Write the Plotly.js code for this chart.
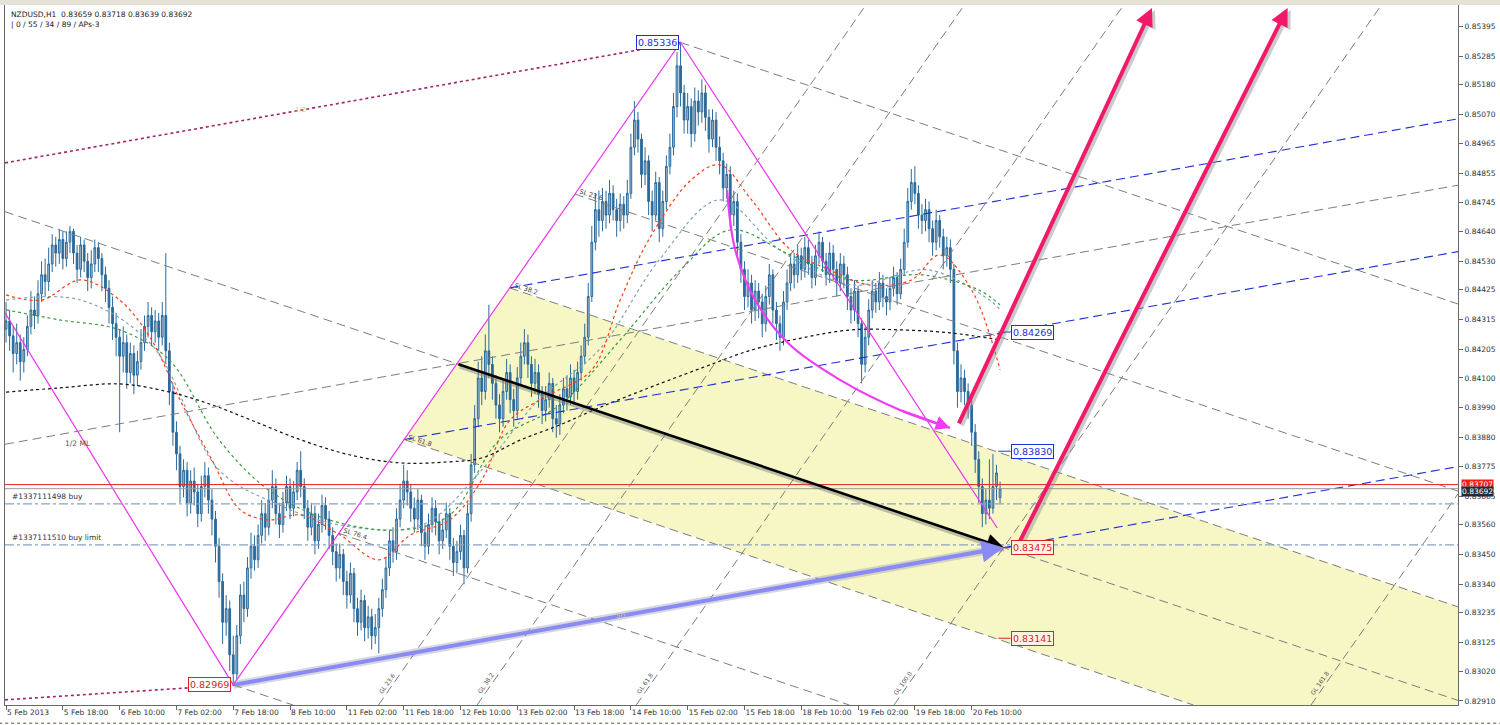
<!DOCTYPE html>
<html>
<head>
<meta charset="utf-8">
<script src="https://cdn.plot.ly/plotly-3.0.1.min.js"></script>
<style>
html,body{margin:0;padding:0;background:#fff;}
#chart{width:1500px;height:725px;}
</style>
</head>
<body>
<div id="chart"></div>
<script>
// NZDUSD H1, 5 Feb 2013 - 20 Feb 2013, with pitchfork / channel study objects

// time axis (bar index) labels
const tickIdx = [0,16,32,48,64,80,96,112,128,144,160,176,192,208,224,240,256,272];
const tickText = ['5 Feb 2013','5 Feb 18:00','6 Feb 10:00','7 Feb 02:00','7 Feb 18:00','8 Feb 10:00',
  '11 Feb 02:00','11 Feb 18:00','12 Feb 10:00','13 Feb 02:00','13 Feb 18:00','14 Feb 10:00',
  '15 Feb 02:00','15 Feb 18:00','18 Feb 10:00','19 Feb 02:00','19 Feb 18:00','20 Feb 10:00'];

// price axis labels
const priceTicks = [0.85395,0.85285,0.85180,0.85070,0.84965,0.84855,0.84745,0.84640,0.84530,0.84425,
  0.84315,0.84205,0.84100,0.83990,0.83880,0.83775,0.83665,0.83560,0.83450,0.83340,0.83235,0.83125,0.83020,0.82910];

// hourly bars
const open = [
0.84280,0.84310,0.84255,0.84190,0.84230,0.84160,0.84205,0.84290,0.84350,0.84330,
0.84410,0.84480,0.84455,0.84520,0.84590,0.84560,0.84610,0.84540,0.84600,0.84640,
0.84560,0.84500,0.84590,0.84530,0.84470,0.84520,0.84580,0.84540,0.84480,0.84430,
0.84360,0.84300,0.84250,0.84180,0.84230,0.84120,0.84190,0.84110,0.84160,0.84230,
0.84290,0.84330,0.84270,0.84310,0.84250,0.84330,0.84200,0.84050,0.83900,0.83820,
0.83700,0.83760,0.83640,0.83720,0.83680,0.83600,0.83700,0.83740,0.83650,0.83580,
0.83480,0.83350,0.83200,0.83250,0.83080,0.83010,0.83150,0.83300,0.83250,0.83400,
0.83480,0.83430,0.83520,0.83600,0.83550,0.83650,0.83700,0.83600,0.83560,0.83640,
0.83700,0.83620,0.83680,0.83760,0.83700,0.83620,0.83550,0.83600,0.83500,0.83560,
0.83630,0.83580,0.83520,0.83460,0.83400,0.83450,0.83350,0.83300,0.83380,0.83250,
0.83200,0.83280,0.83180,0.83220,0.83150,0.83180,0.83250,0.83320,0.83400,0.83500,
0.83460,0.83580,0.83650,0.83720,0.83680,0.83620,0.83580,0.83650,0.83530,0.83480,
0.83560,0.83620,0.83570,0.83500,0.83540,0.83600,0.83480,0.83420,0.83460,0.83520,
0.83400,0.83600,0.83780,0.83950,0.84100,0.84050,0.84200,0.84150,0.84080,0.84000,
0.83950,0.84050,0.84120,0.84020,0.83980,0.84100,0.84180,0.84230,0.84150,0.84080,
0.84120,0.84040,0.83980,0.84020,0.84080,0.83950,0.83930,0.84000,0.84060,0.84030,
0.84100,0.84050,0.84120,0.84180,0.84250,0.84400,0.84600,0.84720,0.84680,0.84750,
0.84700,0.84780,0.84720,0.84680,0.84740,0.84700,0.84780,0.84950,0.85050,0.84980,
0.84850,0.84900,0.84750,0.84700,0.84820,0.84650,0.84750,0.84880,0.84950,0.85100,
0.85250,0.85150,0.85050,0.85100,0.85000,0.85120,0.85080,0.85150,0.85060,0.84980,
0.85050,0.84950,0.84900,0.84800,0.84850,0.84700,0.84750,0.84600,0.84500,0.84400,
0.84450,0.84350,0.84420,0.84380,0.84300,0.84400,0.84480,0.84350,0.84300,0.84250,
0.84380,0.84450,0.84520,0.84480,0.84550,0.84500,0.84580,0.84520,0.84470,0.84550,
0.84600,0.84530,0.84480,0.84560,0.84500,0.84450,0.84520,0.84480,0.84400,0.84350,
0.84420,0.84300,0.84150,0.84250,0.84350,0.84420,0.84380,0.84450,0.84400,0.84380,
0.84430,0.84470,0.84410,0.84500,0.84600,0.84750,0.84820,0.84780,0.84700,0.84680,
0.84720,0.84650,0.84600,0.84680,0.84620,0.84550,0.84580,0.84500,0.84200,0.84050,
0.84100,0.84050,0.84000,0.83900,0.83800,0.83700,0.83600,0.83650,0.83620,0.83700,
0.83659];
const high = [
0.84380,0.84350,0.84290,0.84300,0.84260,0.84250,0.84330,0.84420,0.84400,0.84460,
0.84530,0.84540,0.84580,0.84630,0.84620,0.84650,0.84640,0.84640,0.84660,0.84650,
0.84590,0.84620,0.84610,0.84560,0.84570,0.84610,0.84600,0.84560,0.84510,0.84460,
0.84400,0.84340,0.84280,0.84290,0.84260,0.84230,0.84220,0.84200,0.84280,0.84330,
0.84380,0.84360,0.84350,0.84340,0.84380,0.84560,0.84230,0.84080,0.83940,0.83850,
0.83800,0.83790,0.83760,0.83770,0.83710,0.83740,0.83790,0.83770,0.83690,0.83610,
0.83510,0.83380,0.83300,0.83280,0.83150,0.83190,0.83340,0.83350,0.83440,0.83530,
0.83520,0.83560,0.83650,0.83640,0.83690,0.83760,0.83730,0.83640,0.83680,0.83740,
0.83730,0.83720,0.83790,0.83830,0.83730,0.83650,0.83640,0.83630,0.83600,0.83670,
0.83660,0.83610,0.83550,0.83490,0.83490,0.83470,0.83390,0.83420,0.83400,0.83290,
0.83320,0.83300,0.83260,0.83250,0.83230,0.83290,0.83360,0.83440,0.83540,0.83550,
0.83620,0.83710,0.83780,0.83760,0.83710,0.83660,0.83690,0.83670,0.83560,0.83600,
0.83660,0.83650,0.83600,0.83580,0.83640,0.83620,0.83510,0.83500,0.83560,0.83540,
0.83640,0.83820,0.84000,0.84160,0.84180,0.84260,0.84370,0.84180,0.84110,0.84040,
0.84090,0.84170,0.84150,0.84060,0.84140,0.84230,0.84280,0.84260,0.84180,0.84170,
0.84150,0.84070,0.84070,0.84120,0.84100,0.84000,0.84040,0.84100,0.84110,0.84150,
0.84130,0.84160,0.84220,0.84300,0.84450,0.84660,0.84780,0.84790,0.84800,0.84790,
0.84830,0.84810,0.84760,0.84780,0.84770,0.84830,0.85000,0.85120,0.85080,0.85000,
0.84950,0.84920,0.84790,0.84860,0.84840,0.84790,0.84920,0.85000,0.85150,0.85300,
0.85336,0.85180,0.85150,0.85130,0.85170,0.85160,0.85200,0.85180,0.85090,0.85090,
0.85080,0.84990,0.84930,0.84890,0.84880,0.84790,0.84780,0.84630,0.84530,0.84500,
0.84480,0.84460,0.84450,0.84410,0.84440,0.84520,0.84500,0.84380,0.84330,0.84420,
0.84500,0.84560,0.84560,0.84590,0.84580,0.84620,0.84610,0.84550,0.84590,0.84640,
0.84620,0.84560,0.84600,0.84590,0.84530,0.84560,0.84550,0.84510,0.84430,0.84460,
0.84440,0.84320,0.84290,0.84390,0.84460,0.84450,0.84490,0.84480,0.84430,0.84470,
0.84510,0.84490,0.84540,0.84650,0.84800,0.84870,0.84880,0.84810,0.84740,0.84760,
0.84750,0.84680,0.84720,0.84700,0.84650,0.84620,0.84610,0.84520,0.84230,0.84150,
0.84130,0.84080,0.84030,0.83930,0.83830,0.83730,0.83690,0.83800,0.83820,0.83780,
0.83718];
const low = [
0.84230,0.84200,0.84120,0.84150,0.84090,0.84120,0.84180,0.84260,0.84280,0.84300,
0.84380,0.84400,0.84420,0.84490,0.84510,0.84520,0.84500,0.84510,0.84560,0.84520,
0.84450,0.84470,0.84490,0.84420,0.84430,0.84490,0.84490,0.84420,0.84380,0.84300,
0.84240,0.84180,0.83900,0.84120,0.84060,0.84080,0.84040,0.84070,0.84130,0.84200,
0.84250,0.84220,0.84230,0.84200,0.84220,0.84150,0.84000,0.83850,0.83760,0.83640,
0.83660,0.83590,0.83600,0.83630,0.83550,0.83570,0.83660,0.83600,0.83520,0.83420,
0.83290,0.83120,0.83150,0.83020,0.82969,0.82990,0.83120,0.83200,0.83220,0.83360,
0.83390,0.83400,0.83490,0.83500,0.83520,0.83620,0.83560,0.83510,0.83530,0.83610,
0.83580,0.83590,0.83650,0.83660,0.83580,0.83500,0.83520,0.83450,0.83470,0.83530,
0.83540,0.83470,0.83410,0.83350,0.83360,0.83300,0.83250,0.83270,0.83200,0.83150,
0.83170,0.83130,0.83140,0.83100,0.83120,0.83085,0.83220,0.83290,0.83370,0.83420,
0.83430,0.83550,0.83620,0.83630,0.83570,0.83530,0.83540,0.83480,0.83430,0.83450,
0.83530,0.83520,0.83450,0.83470,0.83510,0.83430,0.83370,0.83380,0.83430,0.83340,
0.83380,0.83570,0.83750,0.83920,0.84000,0.84020,0.84100,0.84020,0.83950,0.83900,
0.83920,0.84020,0.83970,0.83920,0.83950,0.84070,0.84150,0.84100,0.84030,0.84040,
0.83990,0.83930,0.83940,0.83990,0.83900,0.83880,0.83890,0.83970,0.83980,0.84000,
0.84000,0.84020,0.84090,0.84150,0.84220,0.84380,0.84570,0.84620,0.84640,0.84650,
0.84670,0.84680,0.84620,0.84640,0.84650,0.84670,0.84760,0.84920,0.84930,0.84800,
0.84810,0.84700,0.84640,0.84680,0.84600,0.84620,0.84720,0.84850,0.84920,0.85060,
0.85100,0.85000,0.85000,0.84950,0.84970,0.85030,0.85040,0.85010,0.84930,0.84950,
0.84900,0.84850,0.84750,0.84760,0.84650,0.84660,0.84550,0.84450,0.84350,0.84360,
0.84300,0.84310,0.84320,0.84250,0.84270,0.84370,0.84300,0.84240,0.84200,0.84220,
0.84350,0.84420,0.84430,0.84450,0.84460,0.84470,0.84480,0.84430,0.84440,0.84520,
0.84490,0.84440,0.84450,0.84460,0.84400,0.84420,0.84430,0.84350,0.84300,0.84310,
0.84250,0.84080,0.84120,0.84220,0.84320,0.84340,0.84350,0.84360,0.84330,0.84350,
0.84400,0.84370,0.84390,0.84480,0.84580,0.84720,0.84740,0.84650,0.84630,0.84640,
0.84600,0.84550,0.84570,0.84580,0.84500,0.84510,0.84450,0.84150,0.83990,0.84010,
0.84000,0.83950,0.83850,0.83750,0.83640,0.83550,0.83560,0.83580,0.83600,0.83650,
0.83639];
const close = [
0.84310,0.84255,0.84190,0.84230,0.84160,0.84205,0.84290,0.84350,0.84330,0.84410,
0.84480,0.84455,0.84520,0.84590,0.84560,0.84610,0.84540,0.84600,0.84640,0.84560,
0.84500,0.84590,0.84530,0.84470,0.84520,0.84580,0.84540,0.84480,0.84430,0.84360,
0.84300,0.84250,0.84180,0.84230,0.84120,0.84190,0.84110,0.84160,0.84230,0.84290,
0.84330,0.84270,0.84310,0.84250,0.84330,0.84200,0.84050,0.83900,0.83820,0.83700,
0.83760,0.83640,0.83720,0.83680,0.83600,0.83700,0.83740,0.83650,0.83580,0.83480,
0.83350,0.83200,0.83250,0.83080,0.83010,0.83150,0.83300,0.83250,0.83400,0.83480,
0.83430,0.83520,0.83600,0.83550,0.83650,0.83700,0.83600,0.83560,0.83640,0.83700,
0.83620,0.83680,0.83760,0.83700,0.83620,0.83550,0.83600,0.83500,0.83560,0.83630,
0.83580,0.83520,0.83460,0.83400,0.83450,0.83350,0.83300,0.83380,0.83250,0.83200,
0.83280,0.83180,0.83220,0.83150,0.83180,0.83250,0.83320,0.83400,0.83500,0.83460,
0.83580,0.83650,0.83720,0.83680,0.83620,0.83580,0.83650,0.83530,0.83480,0.83560,
0.83620,0.83570,0.83500,0.83540,0.83600,0.83480,0.83420,0.83460,0.83520,0.83400,
0.83600,0.83780,0.83950,0.84100,0.84050,0.84200,0.84150,0.84080,0.84000,0.83950,
0.84050,0.84120,0.84020,0.83980,0.84100,0.84180,0.84230,0.84150,0.84080,0.84120,
0.84040,0.83980,0.84020,0.84080,0.83950,0.83930,0.84000,0.84060,0.84030,0.84100,
0.84050,0.84120,0.84180,0.84250,0.84400,0.84600,0.84720,0.84680,0.84750,0.84700,
0.84780,0.84720,0.84680,0.84740,0.84700,0.84780,0.84950,0.85050,0.84980,0.84850,
0.84900,0.84750,0.84700,0.84820,0.84650,0.84750,0.84880,0.84950,0.85100,0.85250,
0.85150,0.85050,0.85100,0.85000,0.85120,0.85080,0.85150,0.85060,0.84980,0.85050,
0.84950,0.84900,0.84800,0.84850,0.84700,0.84750,0.84600,0.84500,0.84400,0.84450,
0.84350,0.84420,0.84380,0.84300,0.84400,0.84480,0.84350,0.84300,0.84250,0.84380,
0.84450,0.84520,0.84480,0.84550,0.84500,0.84580,0.84520,0.84470,0.84550,0.84600,
0.84530,0.84480,0.84560,0.84500,0.84450,0.84520,0.84480,0.84400,0.84350,0.84420,
0.84300,0.84150,0.84250,0.84350,0.84420,0.84380,0.84450,0.84400,0.84380,0.84430,
0.84470,0.84410,0.84500,0.84600,0.84750,0.84820,0.84780,0.84700,0.84680,0.84720,
0.84650,0.84600,0.84680,0.84620,0.84550,0.84580,0.84500,0.84200,0.84050,0.84100,
0.84050,0.84000,0.83900,0.83800,0.83700,0.83600,0.83650,0.83620,0.83700,0.83750,
0.83692];

// moving averages (sampled at bar index)
const maRedT = [0,10,21,32,41,49,58,66,74,83,94,105,114,125,134,142,153,165,173,181,193,201,210,221,232,243,255,263,272,280];
const maRedP = [0.84406,0.84387,0.84461,0.84387,0.84240,0.84019,0.83798,0.83614,0.83577,0.83595,0.83522,0.83430,0.83522,0.83577,0.83724,0.83945,0.84037,0.84130,0.84387,0.84608,0.84830,0.84885,0.84756,0.84572,0.84498,0.84443,0.84461,0.84553,0.84424,0.84130];
const maGreenT = [0,15,32,46,60,74,91,111,125,139,156,173,190,204,221,238,258,274,280];
const maGreenP = [0.84351,0.84314,0.84277,0.84166,0.83872,0.83687,0.83577,0.83540,0.83595,0.83872,0.84001,0.84240,0.84498,0.84645,0.84553,0.84461,0.84480,0.84424,0.84369];
const maSteelT = [0,21,41,60,77,94,117,134,150,167,184,201,218,238,260,277,280];
const maSteelP = [0.84387,0.84387,0.84222,0.83761,0.83632,0.83558,0.83558,0.83761,0.84019,0.84203,0.84535,0.84756,0.84572,0.84443,0.84498,0.84387,0.84351];
const maBlackT = [0,15,32,46,58,69,83,97,111,125,134,145,156,167,181,196,210,224,238,252,266,280];
const maBlackP = [0.84048,0.84063,0.84078,0.84048,0.84001,0.83945,0.83872,0.83816,0.83787,0.83791,0.83805,0.83872,0.83927,0.83990,0.84063,0.84137,0.84203,0.84247,0.84277,0.84277,0.84266,0.84240];

// swing pivots: low, high, target
const pivotT = [64, 190, 281];
const pivotP = [0.82969, 0.85336, 0.83475];
const zigStartT = -0.3, zigStartP = 0.84340;
const zigEndT = 279.2, zigEndP = 0.83547;
const slLevels = [0.236, 0.382, 0.618, 0.764];
const glLevels = [0.236, 0.382, 0.618, 1.0, 1.618];

// price markers and levels
const askP = 0.83707, bidP = 0.83692;
const orderP = [0.83636, 0.83485];
const orderText = ['#1337111498 buy', '#1337111510 buy limit'];
const blueMarks = [0.84269, 0.83830];
const redMarks = [0.83475, 0.83141];

// hand-drawn arrows
const curveT = [203.1, 205.4, 211.0, 220.8, 234.9, 251.8, 265.9];
const curveP = [0.84793, 0.84572, 0.84387, 0.84222, 0.84093, 0.83982, 0.83916];
const pinkTailT = [268.2, 284.5], pinkTailP = [0.83927, 0.83470];
const pinkHeadT = [322.8, 361.0], pinkHeadP = [0.85463, 0.85463];

// ---------------------------------------------------------------
const X0 = -0.3, X1 = 409.0, Y0 = 0.82895, Y1 = 0.85474;
const A = {t: pivotT[0], p: pivotP[0]};
const B = {t: pivotT[1], p: pivotP[1]};
const E = {t: pivotT[2], p: pivotP[2]};
const onAB = f => ({t: B.t + f * (A.t - B.t), p: B.p + f * (A.p - B.p)});
const M = onAB(0.5);
const sDown = (E.p - M.p) / (E.t - M.t);
const sUp = (E.p - A.p) / (E.t - A.t);
const sGL = (B.p - A.p) / (B.t - A.t);

function ray(pt, s, dir) {
  let t = dir > 0 ? X1 : X0;
  let p = pt.p + s * (t - pt.t);
  if (p < Y0) { p = Y0; t = pt.t + (Y0 - pt.p) / s; }
  else if (p > Y1) { p = Y1; t = pt.t + (Y1 - pt.p) / s; }
  return {t, p};
}
function lineTrace(a, b, color, width, dash) {
  return {type: 'scatter', mode: 'lines', x: [a.t, b.t], y: [a.p, b.p],
    line: {color, width, dash}, hoverinfo: 'skip'};
}
const GRAY = '#7d7d7d', GDASH = '9px,5px';
const traces = [];

// candles
traces.push({
  type: 'candlestick', x: close.map((_, k) => k), open, high, low, close,
  increasing: {line: {color: '#2b6a9b', width: 1}, fillcolor: '#a9bfd2'},
  decreasing: {line: {color: '#2b6a9b', width: 1}, fillcolor: '#2b6a9b'},
  whiskerwidth: 0, hoverinfo: 'skip'
});

// moving averages
[[maSteelT, maSteelP, '#7f9fbf'], [maGreenT, maGreenP, '#3c9a3c'],
 [maRedT, maRedP, '#ff3b10'], [maBlackT, maBlackP, '#111111']].forEach(([t, p, c]) => {
  traces.push({type: 'scatter', mode: 'lines', x: t, y: p,
    line: {color: c, width: 1.2, dash: 'dot', shape: 'spline', smoothing: 1}, hoverinfo: 'skip'});
});

// descending parallels from swing-line levels
[B, A, ...slLevels.map(onAB)].forEach(pt => traces.push(lineTrace(pt, ray(pt, sDown, 1), GRAY, 1, GDASH)));
traces.push(lineTrace(ray(M, sDown, -1), ray(M, sDown, 1), GRAY, 1, GDASH));

// rising parallels
traces.push(lineTrace(ray(M, sUp, -1), ray(M, sUp, 1), GRAY, 1, GDASH));
traces.push(lineTrace(ray(B, sUp, -1), B, '#a3246a', 1.6, 'dot'));
traces.push(lineTrace(A, E, '#a3246a', 1.6, 'dot'));
traces.push(lineTrace({t: X0, p: 0.82914}, A, '#a3246a', 1.6, 'dot'));
[onAB(0.382), onAB(0.618), E].forEach(pt => traces.push(lineTrace(pt, ray(pt, sUp, 1), '#1f2ed6', 1.1, GDASH)));

// steep channel lines parallel to the swing
glLevels.forEach(f => {
  const g = {t: A.t + f * (E.t - A.t), p: A.p + f * (E.p - A.p)};
  traces.push(lineTrace(ray(g, sGL, -1), ray(g, sGL, 1), GRAY, 1, GDASH));
});

// zigzag
traces.push({type: 'scatter', mode: 'lines', x: [zigStartT, A.t, B.t, zigEndT], y: [zigStartP, A.p, B.p, zigEndP],
  line: {color: '#f032f0', width: 1.2}, hoverinfo: 'skip'});

// ask / bid / orders
traces.push(lineTrace({t: X0, p: askP}, {t: X1, p: askP}, '#e02020', 1, 'solid'));
traces.push(lineTrace({t: X0, p: bidP}, {t: X1, p: bidP}, '#9a9a9a', 1, 'solid'));
orderP.forEach(p => traces.push(lineTrace({t: X0, p}, {t: X1, p}, '#8aa2c4', 1.3, 'dashdot')));

// marker connectors
blueMarks.forEach(p => traces.push(lineTrace({t: 279.5, p}, {t: 283, p}, '#2030e0', 1, 'solid')));
redMarks.forEach(p => traces.push(lineTrace({t: 279.5, p}, {t: 283, p}, '#e02020', 1, 'solid')));

// glow under the lavender arrow
traces.push(lineTrace(A, E, 'rgba(140,140,170,0.35)', 8, 'solid'));

// curved magenta arrow body
traces.push({type: 'scatter', mode: 'lines', x: curveT, y: curveP,
  line: {color: '#f03cf0', width: 2.2, shape: 'spline'}, hoverinfo: 'skip'});

// ---------------------------------------------------------------
const ann = [];
const font = (size, color) => ({family: 'DejaVu Sans, Verdana, sans-serif', size, color});
function arrow(tail, head, color, width, size, shift) {
  const a = {x: head.t, y: head.p, ax: tail.t, ay: tail.p, xref: 'x', yref: 'y', axref: 'x', ayref: 'y',
    text: '', showarrow: true, arrowhead: 2, arrowsize: size, arrowwidth: width, arrowcolor: color, standoff: 0};
  if (shift) { a.xshift = shift[0]; a.yshift = shift[1]; }
  ann.push(a);
}
arrow(M, E, 'rgba(120,120,120,0.45)', 3, 1.3, [1, -3]);
arrow(M, E, '#000000', 2.6, 1.3);
arrow(A, E, '#8a8af5', 4, 1.1);
for (let k = 0; k < pinkTailT.length; k++) {
  const tail = {t: pinkTailT[k], p: pinkTailP[k]}, head = {t: pinkHeadT[k], p: pinkHeadP[k]};
  arrow(tail, head, 'rgba(140,140,140,0.45)', 4, 0.9, [3, -2]);
  arrow(tail, head, '#f2196b', 4, 0.9);
}
arrow({t: curveT[5], p: curveP[5]}, {t: curveT[6], p: curveP[6]}, '#f03cf0', 2.2, 1.3);

// header
ann.push({xref: 'paper', yref: 'paper', x: 0, y: 1, xanchor: 'left', yanchor: 'top', xshift: 4, yshift: -3,
  text: 'NZDUSD,H1\u00a0\u00a00.83659 0.83718 0.83639 0.83692', showarrow: false, font: font(7.5, '#1a1a1a')});
ann.push({xref: 'paper', yref: 'paper', x: 0, y: 1, xanchor: 'left', yanchor: 'top', xshift: 4, yshift: -13,
  text: '| 0 / 55 / 34 / 89 / APs-3', showarrow: false, font: font(7.5, '#1a1a1a')});

// price boxes
const box = (t, p, txt, color, anchor, bg) => ann.push({x: t, y: p, xref: 'x', yref: 'y', text: txt,
  xanchor: anchor, yanchor: 'middle', showarrow: false, bgcolor: bg || '#ffffff', bordercolor: color,
  borderwidth: 1, borderpad: 1, font: font(9.5, color)});
box(B.t - 0.3, B.p, B.p.toFixed(5), '#1c2ee0', 'right');
box(A.t - 0.5, A.p, A.p.toFixed(5), '#e02020', 'right');
blueMarks.forEach(p => box(283, p, p.toFixed(5), '#1c2ee0', 'left'));
redMarks.forEach(p => box(283, p, p.toFixed(5), '#e02020', 'left', '#fff4e4'));

// right-axis quote boxes
ann.push({xref: 'paper', yref: 'y', x: 1, y: askP, xanchor: 'left', yanchor: 'middle', xshift: 3, text: askP.toFixed(5),
  showarrow: false, bgcolor: '#ff1a1a', borderpad: 0, font: font(7.5, '#ffffff')});
ann.push({xref: 'paper', yref: 'y', x: 1, y: bidP, xanchor: 'left', yanchor: 'top', xshift: 3, yshift: 3, text: bidP.toFixed(5),
  showarrow: false, bgcolor: '#1f2d38', borderpad: 0, font: font(7.5, '#ffffff')});

// order labels
orderP.forEach((p, k) => ann.push({x: 1.2, y: p, xref: 'x', yref: 'y', xanchor: 'left', yanchor: 'bottom', yshift: 1,
  text: orderText[k], showarrow: false, font: font(7.5, '#333333')}));

// study labels
ann.push({x: 16, y: M.p + sUp * (16 - M.t), xref: 'x', yref: 'y', xanchor: 'left', yanchor: 'top', yshift: -3,
  text: '1/2 ML', showarrow: false, font: font(7.5, '#555555')});
slLevels.forEach(f => {
  const pt = onAB(f);
  ann.push({x: pt.t, y: pt.p, xref: 'x', yref: 'y', xanchor: 'left', yanchor: 'middle', xshift: 1, yshift: -1,
    text: 'SL ' + (f * 100).toFixed(1), textangle: 18, showarrow: false, font: font(6.5, '#444444')});
});
glLevels.forEach(f => {
  const g = {t: A.t + f * (E.t - A.t), p: A.p + f * (E.p - A.p)};
  const p = Y0 + 0.0008;
  ann.push({x: g.t + (p - g.p) / sGL, y: p, xref: 'x', yref: 'y', xshift: -7, text: 'GL ' + (f * 100).toFixed(1),
    textangle: -55, showarrow: false, font: font(6, '#555555')});
});
ann.push({x: 83, y: B.p + sUp * (83 - B.t), xref: 'x', yref: 'y', text: '1/2', showarrow: false, font: font(7, '#c3d84a')});
ann.push({x: 173, y: A.p + sUp * (173 - A.t), xref: 'x', yref: 'y', text: '50', showarrow: false, font: font(7, '#c3d84a')});

// ---------------------------------------------------------------
const bandTop = onAB(0.382), bandBot = onAB(0.618);
const e1 = ray(bandTop, sDown, 1), e2 = ray(bandBot, sDown, 1);
const bandPath = `M ${bandTop.t},${bandTop.p} L ${e1.t},${e1.p} L ${X1},${Y0} L ${e2.t},${e2.p} L ${bandBot.t},${bandBot.p} Z`;

const layout = {
  width: 1500, height: 725,
  margin: {l: 5, r: 42, t: 5, b: 20},
  paper_bgcolor: '#ffffff', plot_bgcolor: '#ffffff',
  showlegend: false, hovermode: false,
  xaxis: {range: [X0, X1], tickvals: tickIdx, ticktext: tickText, tickangle: 0, ticks: 'outside', ticklen: 4, tickcolor: '#666',
    showline: true, linecolor: '#6a6a6a', linewidth: 1, mirror: true, showgrid: false, zeroline: false,
    rangeslider: {visible: false}, ticklabelposition: 'outside right', ticklabelstandoff: 0,
    tickfont: font(7.5, '#333333'), fixedrange: true},
  yaxis: {range: [Y0, Y1], side: 'right', tickvals: priceTicks, ticktext: priceTicks.map(v => v.toFixed(5)),
    ticks: 'outside', ticklen: 4, tickcolor: '#666', showline: true, linecolor: '#6a6a6a', linewidth: 1, mirror: true,
    showgrid: false, zeroline: false, tickfont: font(7.5, '#333333'), fixedrange: true},
  shapes: [
    {type: 'path', path: bandPath, xref: 'x', yref: 'y', fillcolor: '#f7f7c6', line: {width: 0}, layer: 'below'},
    {type: 'rect', xref: 'paper', yref: 'paper', x0: -0.004, x1: 1.03, y0: 1.0, y1: 1.008, fillcolor: '#e6e3d6', line: {width: 0}},
    {type: 'line', xref: 'paper', yref: 'paper', x0: -0.004, x1: 1.03, y0: -0.026, y1: -0.026, line: {color: '#6b4a2a', width: 1, dash: 'dot'}}
  ],
  annotations: ann
};

Plotly.newPlot('chart', traces, layout, {staticPlot: true, displayModeBar: false});
</script>
</body>
</html>
